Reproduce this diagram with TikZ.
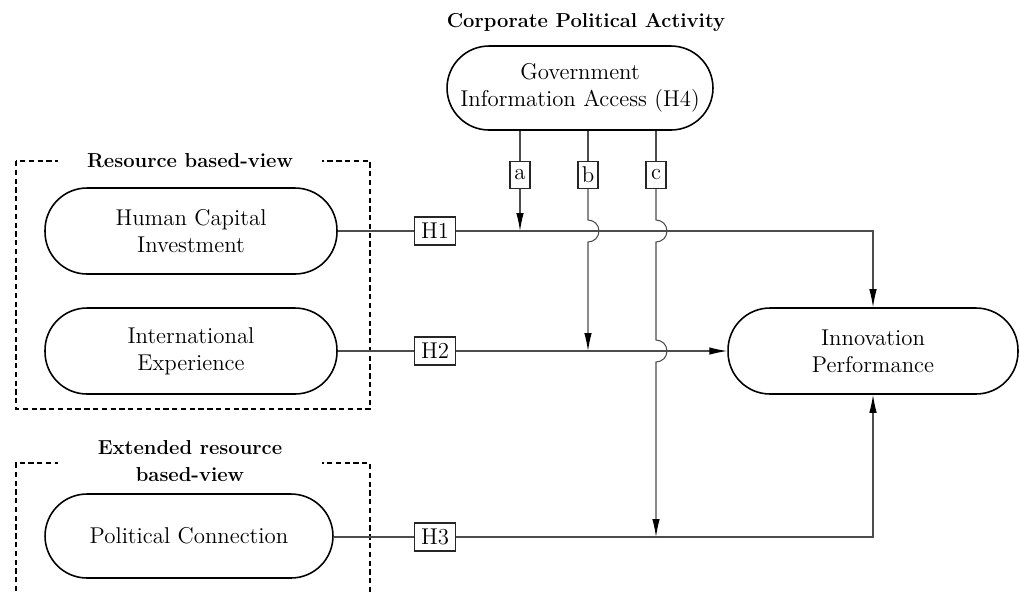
\documentclass[tikz,border=0pt]{standalone}
\usetikzlibrary{arrows.meta,calc}
\begin{document}
\begin{tikzpicture}[x=0.02cm,y=-0.02cm,
  every node/.style={font=\fontsize{13}{15.5}\selectfont},
  pill/.style={draw=black,line width=0.9pt,rounded corners=0.84cm,align=center,minimum height=1.72cm,minimum width=5.84cm,inner sep=0pt},
  hbox/.style={draw=black!85,line width=0.6pt,minimum height=0.56cm,minimum width=0.82cm,inner sep=1pt,fill=white},
  lbox/.style={draw=black!85,line width=0.6pt,minimum height=0.54cm,minimum width=0.4cm,inner sep=1pt,fill=white},
  conn/.style={draw=black!70,line width=0.6pt},
  tip/.style={-{Latex[length=0.36cm,width=0.15cm,black]}},
  group/.style={draw=black,line width=0.6pt,dash pattern=on 3pt off 2pt},
  gtitle/.style={fill=white,font=\fontsize{11.5}{15}\selectfont\bfseries,align=center,inner xsep=0pt,minimum width=5.28cm}]
\useasboundingbox (0,0) rectangle (1020,593);
\fill[white] (0,0) rectangle (1020,593);

% groups
\draw[group] (16,161) rectangle (370,409);
\node[gtitle] (rbvt) at (190,161) {Resource based-view};
\draw[group] (16,600) -- (16,463) -- (370,463) -- (370,600);
\node[gtitle] (erbvt) at (190,461) {Extended resource\\based-view};

% title
\node[font=\fontsize{11.5}{15}\selectfont\bfseries] (cpa) at (586,22) {Corporate Political Activity};

% nodes
\node[pill,minimum width=5.32cm,minimum height=1.68cm] (gov) at (580,88) {Government\\Information Access (H4)};
\node[pill] (hc) at (191,231) {Human Capital\\Investment};
\node[pill] (ie) at (191,351) {International\\Experience};
\node[pill,minimum width=5.76cm,minimum height=1.68cm] (pc) at (189,536) {Political Connection};
\node[pill,minimum width=5.8cm] (ip) at (873,351) {Innovation\\Performance};

% hypothesis boxes
\node[hbox] (h1) at (435,231) {H1};
\node[hbox] (h2) at (435,351) {H2};
\node[hbox] (h3) at (435,537) {H3};
\node[lbox] (la) at (520,175) {a};
\node[lbox] (lb) at (588,175) {b};
\node[lbox] (lc) at (656,175) {c};

\coordinate (k1) at (873,231);
\coordinate (k3) at (873,537);

% main paths
\draw[conn] (hc.east) -- (h1.west);
\draw[conn,tip] (h1.east) -- (k1) -- (ip.north);
\draw[conn] (ie.east) -- (h2.west);
\draw[conn,tip] (h2.east) -- (ip.west);
\draw[conn] (pc.east |- h3.west) -- (h3.west);
\draw[conn,tip] (h3.east) -- (k3) -- (ip.south);

% moderation paths
\draw[conn] (gov.south -| la) -- (la.north);
\draw[conn,tip] (la.south) -- (la |- h1.east);
\draw[conn] (gov.south -| lb) -- (lb.north);
\draw[conn,tip] (lb.south) -- ($(lb |- h1.east)+(0,-11)$)
  arc[start angle=90,end angle=-90,radius=0.22cm] -- (lb |- h2.east);
\draw[conn] (gov.south -| lc) -- (lc.north);
\draw[conn,tip] (lc.south) -- ($(lc |- h1.east)+(0,-11)$)
  arc[start angle=90,end angle=-90,radius=0.22cm] -- ($(lc |- h2.east)+(0,-11)$)
  arc[start angle=90,end angle=-90,radius=0.22cm] -- (lc |- h3.east);
\end{tikzpicture}
\end{document}
